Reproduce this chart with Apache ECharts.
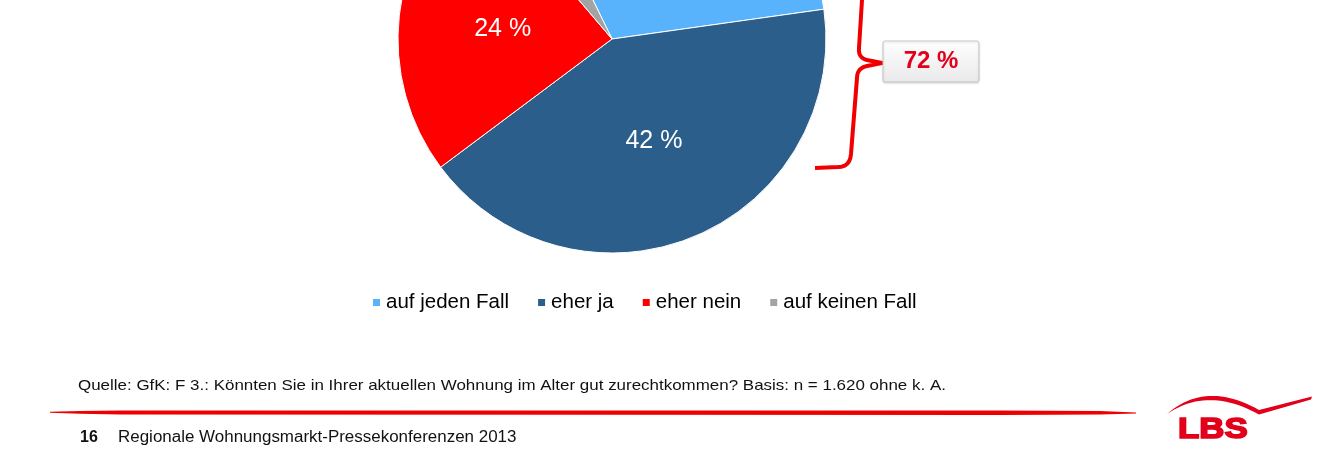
<!DOCTYPE html>
<html>
<head>
<meta charset="utf-8">
<script src="https://cdn.jsdelivr.net/npm/echarts@6/dist/echarts.min.js"></script>
<style>
html,body{margin:0;padding:0;background:#fff;}
#chart{width:1336px;height:462px;}
</style>
</head>
<body>
<div id="chart"></div>
<script>
const categories = ['auf jeden Fall', 'eher ja', 'eher nein', 'auf keinen Fall'];
const values = [30, 42, 24, 4];
const colors = ['#58B2FC', '#2B5E8B', '#FF0000', '#A3A3A3'];
const sourceText = 'Quelle: GfK: F 3.: Könnten Sie in Ihrer aktuellen Wohnung im Alter gut zurechtkommen? Basis: n = 1.620 ohne k. A.';
const pageNumber = '16';
const footerText = 'Regionale Wohnungsmarkt-Pressekonferenzen 2013';
const groupedTotal = values[0] + values[1];

const FONT = '"Liberation Sans", Arial, sans-serif';

function quad(p0, c, p1, n) {
  const out = [];
  for (let i = 0; i <= n; i++) {
    const t = i / n, u = 1 - t;
    out.push([u * u * p0[0] + 2 * u * t * c[0] + t * t * p1[0], u * u * p0[1] + 2 * u * t * c[1] + t * t * p1[1]]);
  }
  return out;
}

const bracePts = [].concat(
  [[862, 0]],
  quad([859, 48], [858, 58], [867, 60], 6),
  [[882, 63]],
  quad([867, 66], [857, 68], [857, 78], 6),
  quad([851, 154], [850, 167], [838, 167], 6),
  [[815, 168]]
);
const swooshPts = [].concat(
  quad([1167, 414], [1206, 380], [1259, 410], 24),
  [[1312, 396.5], [1311, 399.5]],
  quad([1259, 414.5], [1208, 386], [1167, 414], 24)
);

const chart = echarts.init(document.getElementById('chart'), null, {renderer: 'canvas'});

const option = {
  animation: false,
  color: colors,
  legend: {
    data: categories,
    left: 366,
    top: 287,
    itemWidth: 9,
    itemHeight: 9,
    itemGap: 27,
    icon: 'rect',
    textStyle: {fontFamily: FONT, fontSize: 20.5, color: '#000'}
  },
  series: [{
    type: 'pie',
    center: [612, 39],
    radius: 214,
    startAngle: 116,
    clockwise: true,
    avoidLabelOverlap: false,
    itemStyle: {borderColor: '#fff', borderWidth: 1},
    label: {
      show: true,
      position: 'inside',
      formatter: '{c} %',
      color: '#fff',
      fontFamily: FONT,
      fontSize: 25
    },
    labelLayout: function (params) {
      return params.dataIndex === 2 ? {dy: 2.5} : {};
    },
    labelLine: {show: false},
    emphasis: {disabled: true},
    data: categories.map((c, i) => ({name: c, value: values[i]}))
  }],
  graphic: [
    {
      type: 'polyline',
      shape: {points: bracePts},
      style: {stroke: '#F00000', lineWidth: 4, fill: null, lineJoin: 'round'},
      silent: true
    },
    {
      type: 'rect',
      shape: {x: 883, y: 41, width: 96, height: 41, r: 2},
      style: {
        fill: {type: 'linear', x: 0, y: 0, x2: 0, y2: 1, colorStops: [{offset: 0, color: '#ffffff'}, {offset: 1, color: '#e9e9eb'}]},
        stroke: '#c9c9c9', lineWidth: 1,
        shadowBlur: 2, shadowColor: 'rgba(0,0,0,0.15)', shadowOffsetY: 1
      },
      silent: true
    },
    {
      type: 'text',
      x: 931, y: 61,
      style: {text: groupedTotal + ' %', fontFamily: FONT, fontSize: 24, fontWeight: 'bold', fill: '#E2001A', align: 'center', verticalAlign: 'middle'},
      silent: true
    },
    {
      type: 'text',
      x: 78, y: 386,
      scaleX: 1.13,
      style: {text: sourceText, fontFamily: FONT, fontSize: 15, fill: '#111', align: 'left', verticalAlign: 'middle'},
      silent: true
    },
    {
      type: 'polygon',
      shape: {points: [[50, 411.8], [80, 411], [120, 410.4], [600, 410.6], [1000, 410.4], [1100, 411], [1136, 412.6], [1136, 413.4], [1100, 414.4], [1000, 415], [600, 414.8], [120, 414.6], [80, 413.8], [50, 412.8]]},
      style: {fill: '#EE0000'},
      silent: true
    },
    {
      type: 'text',
      x: 80, y: 437.5,
      style: {text: pageNumber, fontFamily: FONT, fontSize: 16, fontWeight: 'bold', fill: '#111', align: 'left', verticalAlign: 'middle'},
      silent: true
    },
    {
      type: 'text',
      x: 118, y: 437.5,
      scaleX: 1.06,
      style: {text: footerText, fontFamily: FONT, fontSize: 16, fill: '#111', align: 'left', verticalAlign: 'middle'},
      silent: true
    },
    {
      type: 'polygon',
      shape: {points: swooshPts},
      style: {fill: '#E2001A'},
      silent: true
    },
    {
      type: 'text',
      x: 1178, y: 430,
      scaleX: 1.2,
      style: {text: 'LBS', fontFamily: FONT, fontSize: 29, fontWeight: 'bold', fill: '#E2001A', stroke: '#E2001A', lineWidth: 1.6, align: 'left', verticalAlign: 'middle'},
      silent: true
    }
  ]
};
chart.setOption(option);
</script>
</body>
</html>
